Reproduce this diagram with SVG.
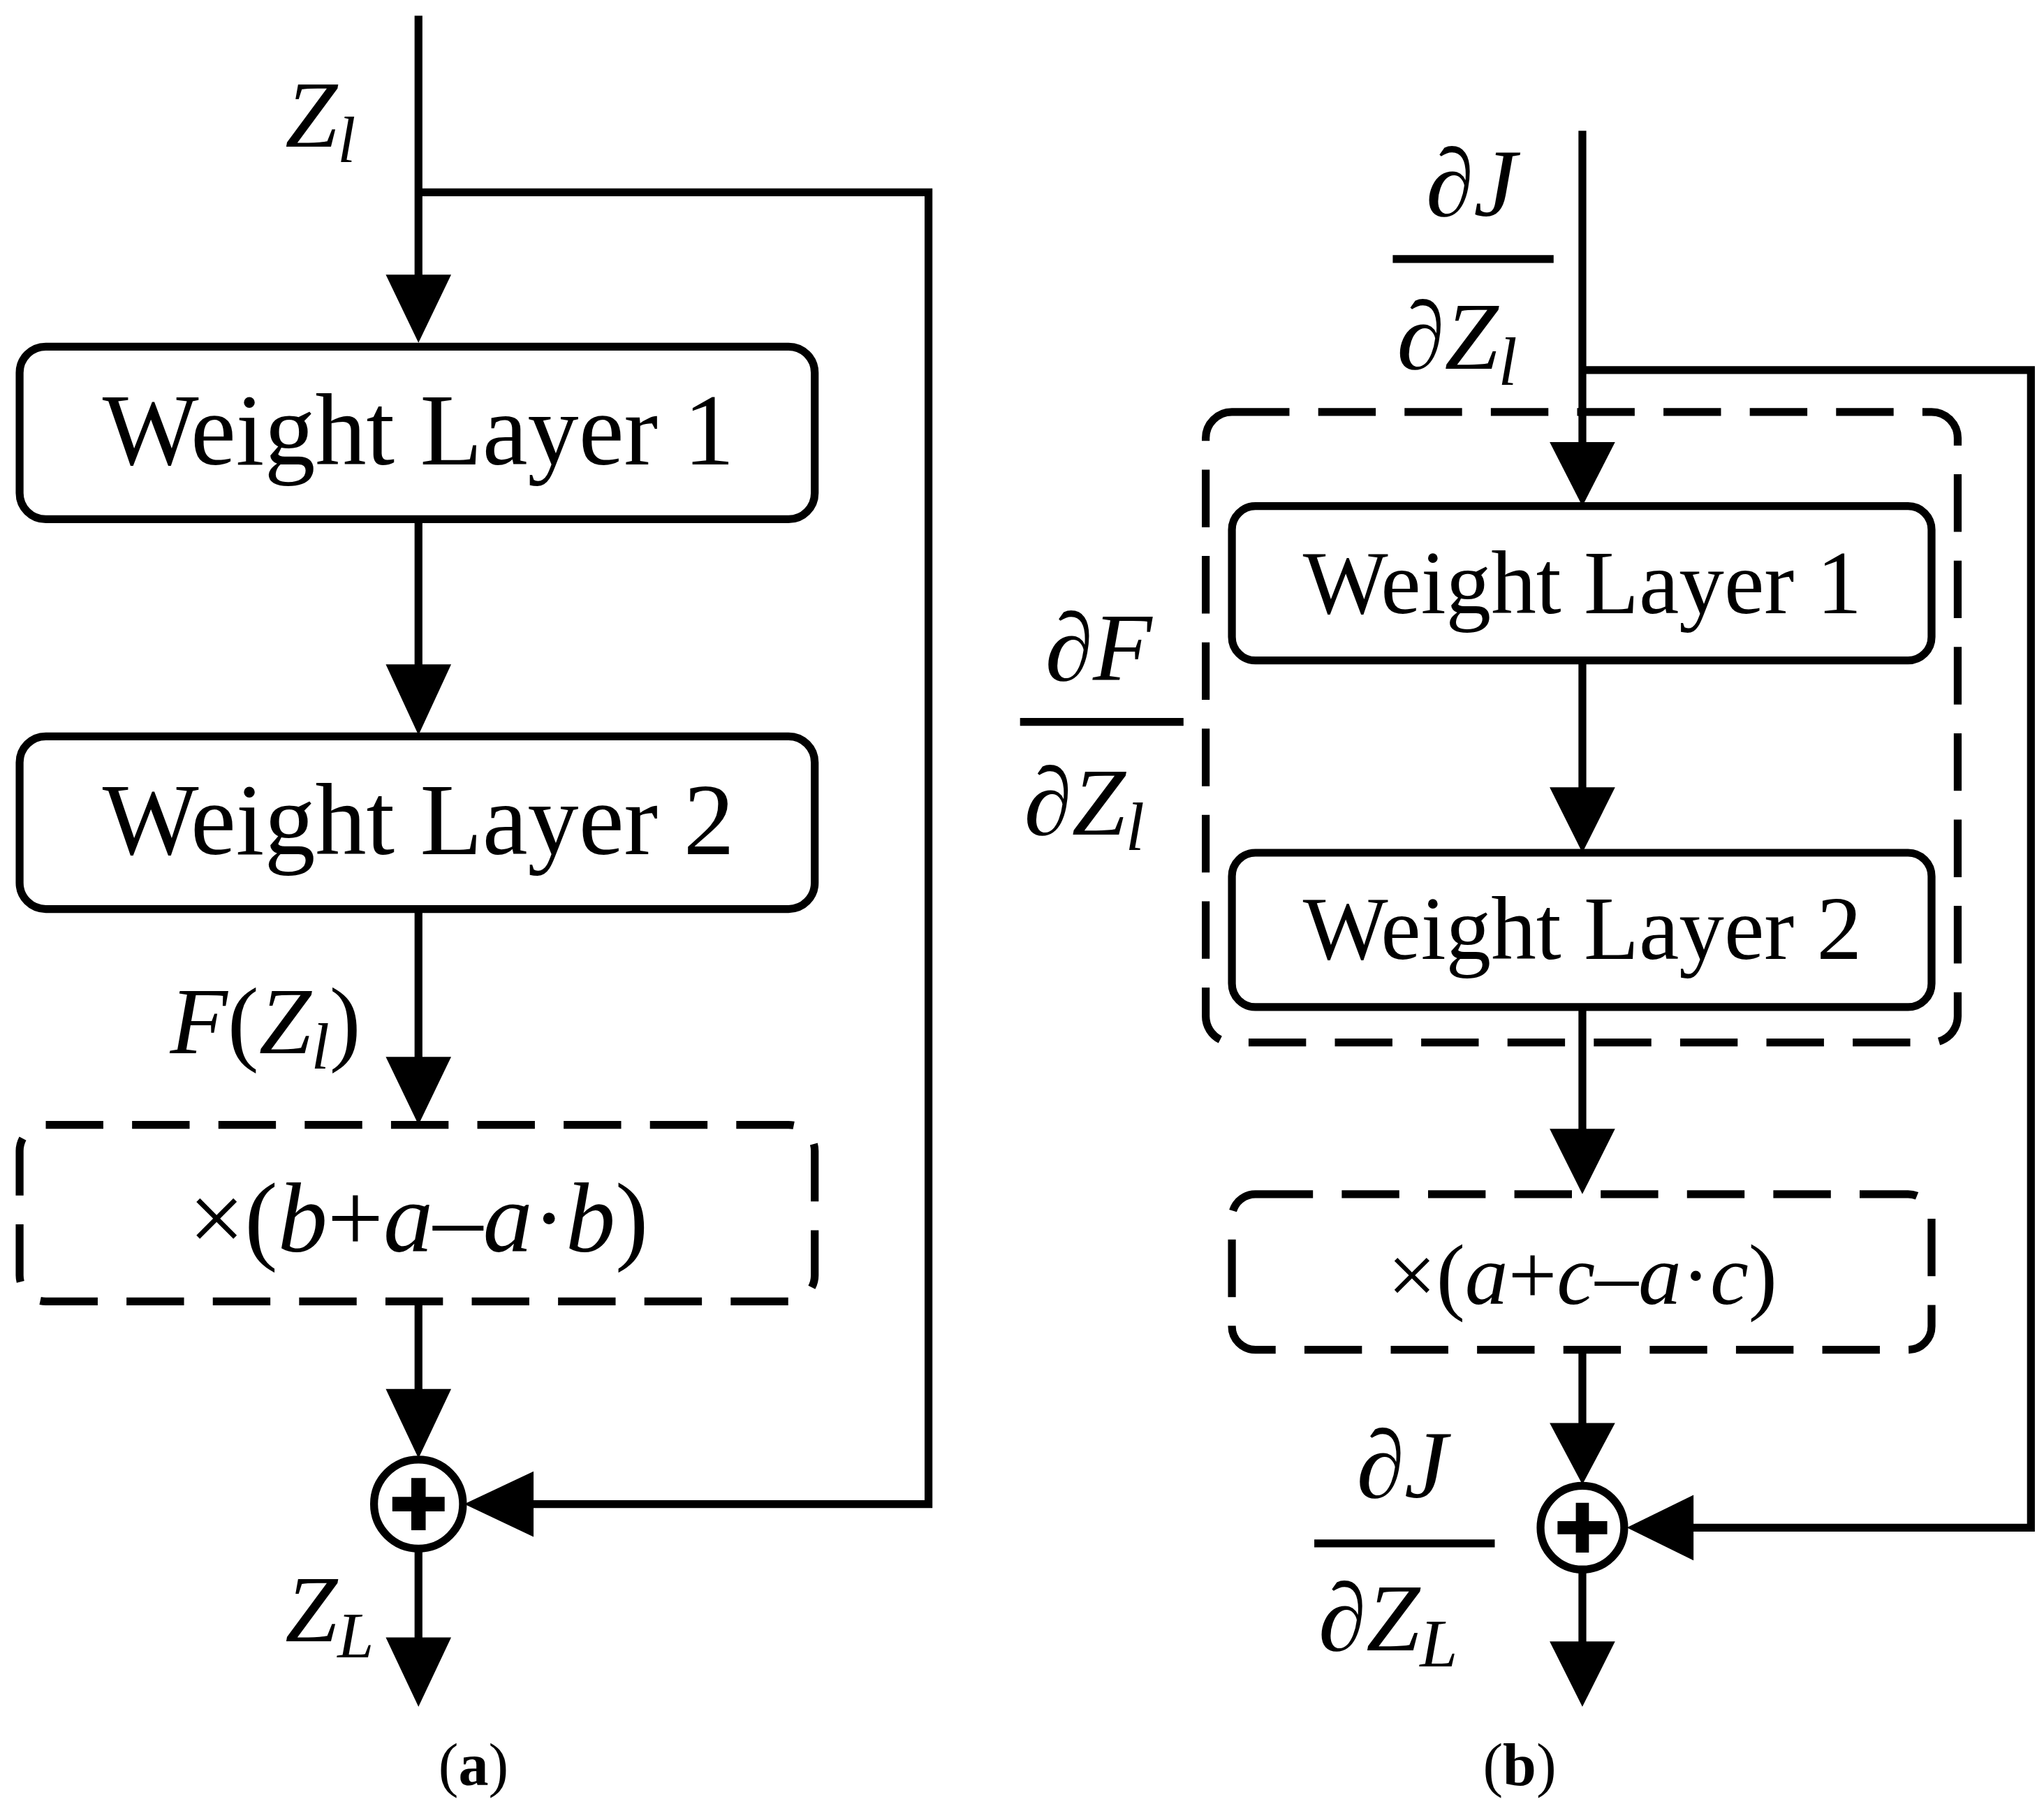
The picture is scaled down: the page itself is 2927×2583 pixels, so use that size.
<svg xmlns="http://www.w3.org/2000/svg" width="2927" height="2583" viewBox="0 0 2927 2583">
<style>
.ln{stroke:#000;stroke-width:6;fill:none}
.bx{stroke:#000;stroke-width:6;fill:#fff}
.ds{stroke:#000;stroke-width:6;fill:#fff;stroke-dasharray:44 22}
.t{font-family:"Liberation Serif",serif;fill:#000}
.i{font-style:italic}
</style>
<rect width="2927" height="2583" fill="#fff"/>
<g transform="scale(1.8727)">
<g id="connectors">
<path class="ln" d="M320 12V215M320 147H710V1150H400M320 397V515M320 695V815M320 995V1070M320 1185V1255"/>
<polygon points="295,210 345,210 320,262"/>
<polygon points="295,508 345,508 320,562"/>
<polygon points="295,808 345,808 320,860"/>
<polygon points="295,1062 345,1062 320,1115"/>
<polygon points="355,1150 408,1125 408,1175"/>
<polygon points="295,1252 345,1252 320,1305"/>
<path class="ln" d="M1210 100V345M1210 283H1553V1168H1285M1210 505V605M1210 770V868M1210 1032V1095M1210 1200V1260"/>
<polygon points="1185,338 1235,338 1210,387"/>
<polygon points="1185,602 1235,602 1210,652"/>
<polygon points="1185,863 1235,863 1210,913"/>
<polygon points="1185,1088 1235,1088 1210,1135"/>
<polygon points="1244,1168 1295,1143 1295,1193"/>
<polygon points="1185,1255 1235,1255 1210,1305"/>
</g>
<g id="a-wl1"><rect class="bx" x="15" y="265" width="608" height="132" rx="20"/><text class="t" x="320" y="355" font-size="78" text-anchor="middle">Weight Layer 1</text></g>
<g id="a-wl2"><rect class="bx" x="15" y="563" width="608" height="132" rx="20"/><text class="t" x="320" y="653" font-size="78" text-anchor="middle">Weight Layer 2</text></g>
<g id="a-mul"><rect class="ds" x="15" y="860" width="608" height="135" rx="20"/><text class="t" x="320" y="957" font-size="76" text-anchor="middle">×(<tspan class="i">b</tspan>+<tspan class="i">a</tspan>–<tspan class="i">a</tspan>·<tspan class="i">b</tspan>)</text></g>
<g id="a-sum"><circle class="bx" cx="320" cy="1150" r="34"/><path d="M300 1150H340M320 1130V1170" stroke="#000" stroke-width="11"/></g>
<g id="a-labels">
<text class="t i" x="218" y="112" font-size="72">Z<tspan font-size="50" dy="12">l</tspan></text>
<text class="t i" x="130" y="805" font-size="72">F<tspan font-style="normal">(</tspan>Z<tspan font-size="50" dy="12">l</tspan><tspan font-style="normal" dy="-12">)</tspan></text>
<text class="t i" x="218" y="1255" font-size="72">Z<tspan font-size="50" dy="12">L</tspan></text>
<text class="t" x="362" y="1365" font-size="46" text-anchor="middle">(<tspan font-weight="bold">a</tspan>)</text>
</g>
<rect id="b-group" class="ds" x="922" y="315" width="575" height="482" rx="20" style="fill:none"/>
<g id="b-wl1"><rect class="bx" x="942" y="387" width="535" height="118" rx="18"/><text class="t" x="1210" y="469" font-size="69" text-anchor="middle">Weight Layer 1</text></g>
<g id="b-wl2"><rect class="bx" x="942" y="652" width="535" height="118" rx="18"/><text class="t" x="1210" y="733" font-size="69" text-anchor="middle">Weight Layer 2</text></g>
<g id="b-mul"><rect class="ds" x="942" y="913" width="535" height="119" rx="18"/><text class="t" x="1210" y="997" font-size="66" text-anchor="middle">×(<tspan class="i">a</tspan>+<tspan class="i">c</tspan>–<tspan class="i">a</tspan>·<tspan class="i">c</tspan>)</text></g>
<g id="b-sum"><circle class="bx" cx="1210" cy="1168" r="32"/><path d="M1191 1168H1229M1210 1149V1187" stroke="#000" stroke-width="10"/></g>
<g id="b-labels">
<text class="t i" x="1125" y="165" font-size="74" text-anchor="middle">∂J</text>
<path class="ln" d="M1065 198H1188"/>
<text class="t i" x="1068" y="282" font-size="74">∂Z<tspan font-size="52" dy="12">l</tspan></text>
<text class="t i" x="840" y="520" font-size="74" text-anchor="middle">∂F</text>
<path class="ln" d="M780 552H905"/>
<text class="t i" x="783" y="638" font-size="74">∂Z<tspan font-size="52" dy="12">l</tspan></text>
<text class="t i" x="1072" y="1145" font-size="74" text-anchor="middle">∂J</text>
<path class="ln" d="M1005 1180H1143"/>
<text class="t i" x="1008" y="1262" font-size="74">∂Z<tspan font-size="52" dy="12">L</tspan></text>
<text class="t" x="1162" y="1365" font-size="46" text-anchor="middle">(<tspan font-weight="bold">b</tspan>)</text>
</g>
</g>
</svg>
